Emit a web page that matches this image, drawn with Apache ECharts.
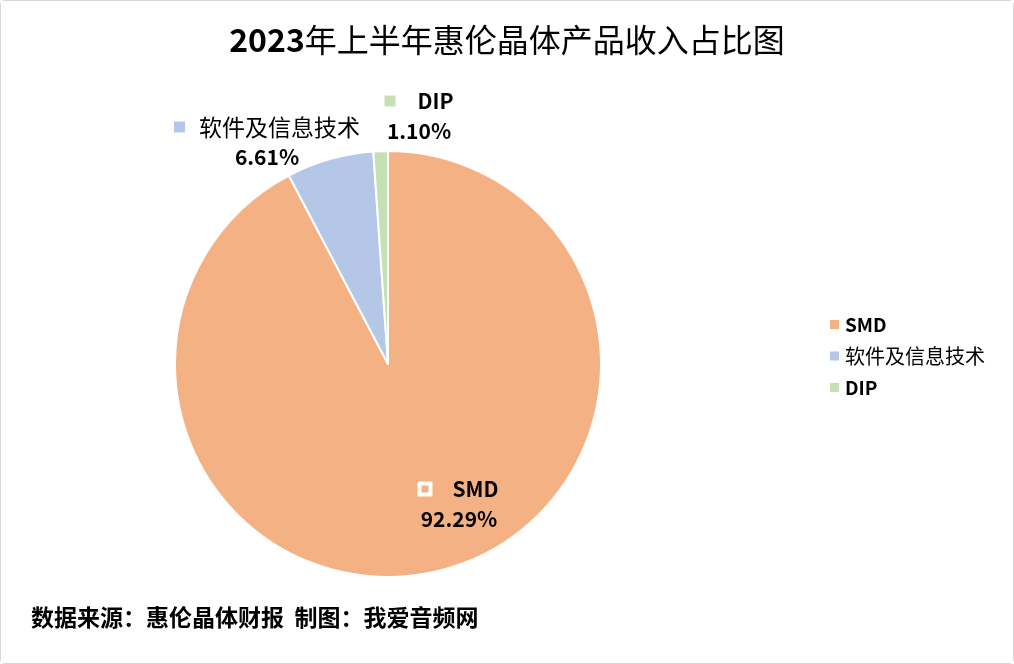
<!DOCTYPE html>
<html>
<head>
<meta charset="utf-8">
<script src="https://cdn.jsdelivr.net/npm/echarts@6/dist/echarts.min.js"></script>
<style>
  html, body { margin: 0; padding: 0; background: #fff; }
  #chart { width: 1012px; height: 662px; border: 1px solid #d9d9d9; border-radius: 4px; }
</style>
</head>
<body>
<div id="chart"></div>
<script>
// 产品类别 & 收入占比(%)
const categories = ['SMD', '软件及信息技术', 'DIP'];
const shares = [92.29, 6.61, 1.10];
const colors = ['#F4B183', '#B4C7E7', '#C5E0B4'];

// label anchor spots (style only)
const labelSpots = [
  { x: 458, y: 503 },
  { x: 266, y: 141 },
  { x: 418, y: 115 }
];
const gaps = [22, 14, 22];

const chart = echarts.init(document.getElementById('chart'));
const cjk = '"Microsoft YaHei", "Noto Sans CJK SC", sans-serif';
const isCjk = s => /[\u4e00-\u9fff]/.test(s);

chart.setOption({
  backgroundColor: '#fff',
  title: {
    text: '{b|2023}{n|年上半年惠伦晶体产品收入占比图}',
    left: 'center',
    top: 18,
    textStyle: {
      rich: {
        b: { fontFamily: cjk, fontSize: 32, fontWeight: 'bold', color: '#000' },
        n: { fontFamily: cjk, fontSize: 32, fontWeight: 'normal', color: '#000' }
      }
    }
  },
  graphic: [{
    type: 'text',
    left: 30,
    top: 605,
    style: {
      text: '数据来源：惠伦晶体财报  制图：我爱音频网',
      font: 'bold 23px ' + cjk,
      fill: '#000'
    }
  }],
  legend: {
    orient: 'vertical',
    left: 822,
    top: 309,
    itemWidth: 11,
    itemHeight: 11,
    itemGap: 12,
    icon: 'rect',
    formatter: n => isCjk(n) ? '{c|' + n + '}' : '{l|' + n + '}',
    textStyle: {
      rich: {
        c: { fontFamily: cjk, fontSize: 20, fontWeight: 'normal', color: '#000', height: 20 },
        l: { fontFamily: cjk, fontSize: 19, fontWeight: 'bold', color: '#000', height: 20 }
      }
    },
    data: categories
  },
  series: [{
    type: 'pie',
    center: [387, 363],
    radius: 213,
    startAngle: 90,
    clockwise: true,
    silent: true,
    itemStyle: { borderColor: '#fff', borderWidth: 2 },
    labelLine: { show: false },
    label: {
      show: true,
      formatter: p => {
        const i = p.dataIndex;
        const nm = isCjk(p.name) ? '{nc|' + p.name + '}' : '{name|' + p.name + '}';
        return '{k' + i + '|}{g' + i + '|}' + nm + '\n{val|' + shares[i].toFixed(2) + '%}';
      },
      align: 'center',
      lineHeight: 30,
      rich: {
        k0: { width: 11, height: 11, borderColor: '#fff', borderWidth: 2, backgroundColor: 'transparent' },
        k1: { width: 11, height: 11, backgroundColor: colors[1] },
        k2: { width: 11, height: 11, backgroundColor: colors[2] },
        g0: { width: gaps[0] },
        g1: { width: gaps[1] },
        g2: { width: gaps[2] },
        name: { fontFamily: cjk, fontSize: 21, fontWeight: 'bold', color: '#000', lineHeight: 30 },
        nc: { fontFamily: cjk, fontSize: 23, fontWeight: 'normal', color: '#000', lineHeight: 30 },
        val: { fontFamily: cjk, fontSize: 21, fontWeight: 'bold', color: '#000', lineHeight: 30 }
      }
    },
    labelLayout: p => ({
      x: labelSpots[p.dataIndex].x,
      y: labelSpots[p.dataIndex].y,
      align: 'center',
      verticalAlign: 'middle'
    }),
    data: categories.map((c, i) => ({ name: c, value: shares[i], itemStyle: { color: colors[i] } }))
  }]
});
</script>
</body>
</html>
